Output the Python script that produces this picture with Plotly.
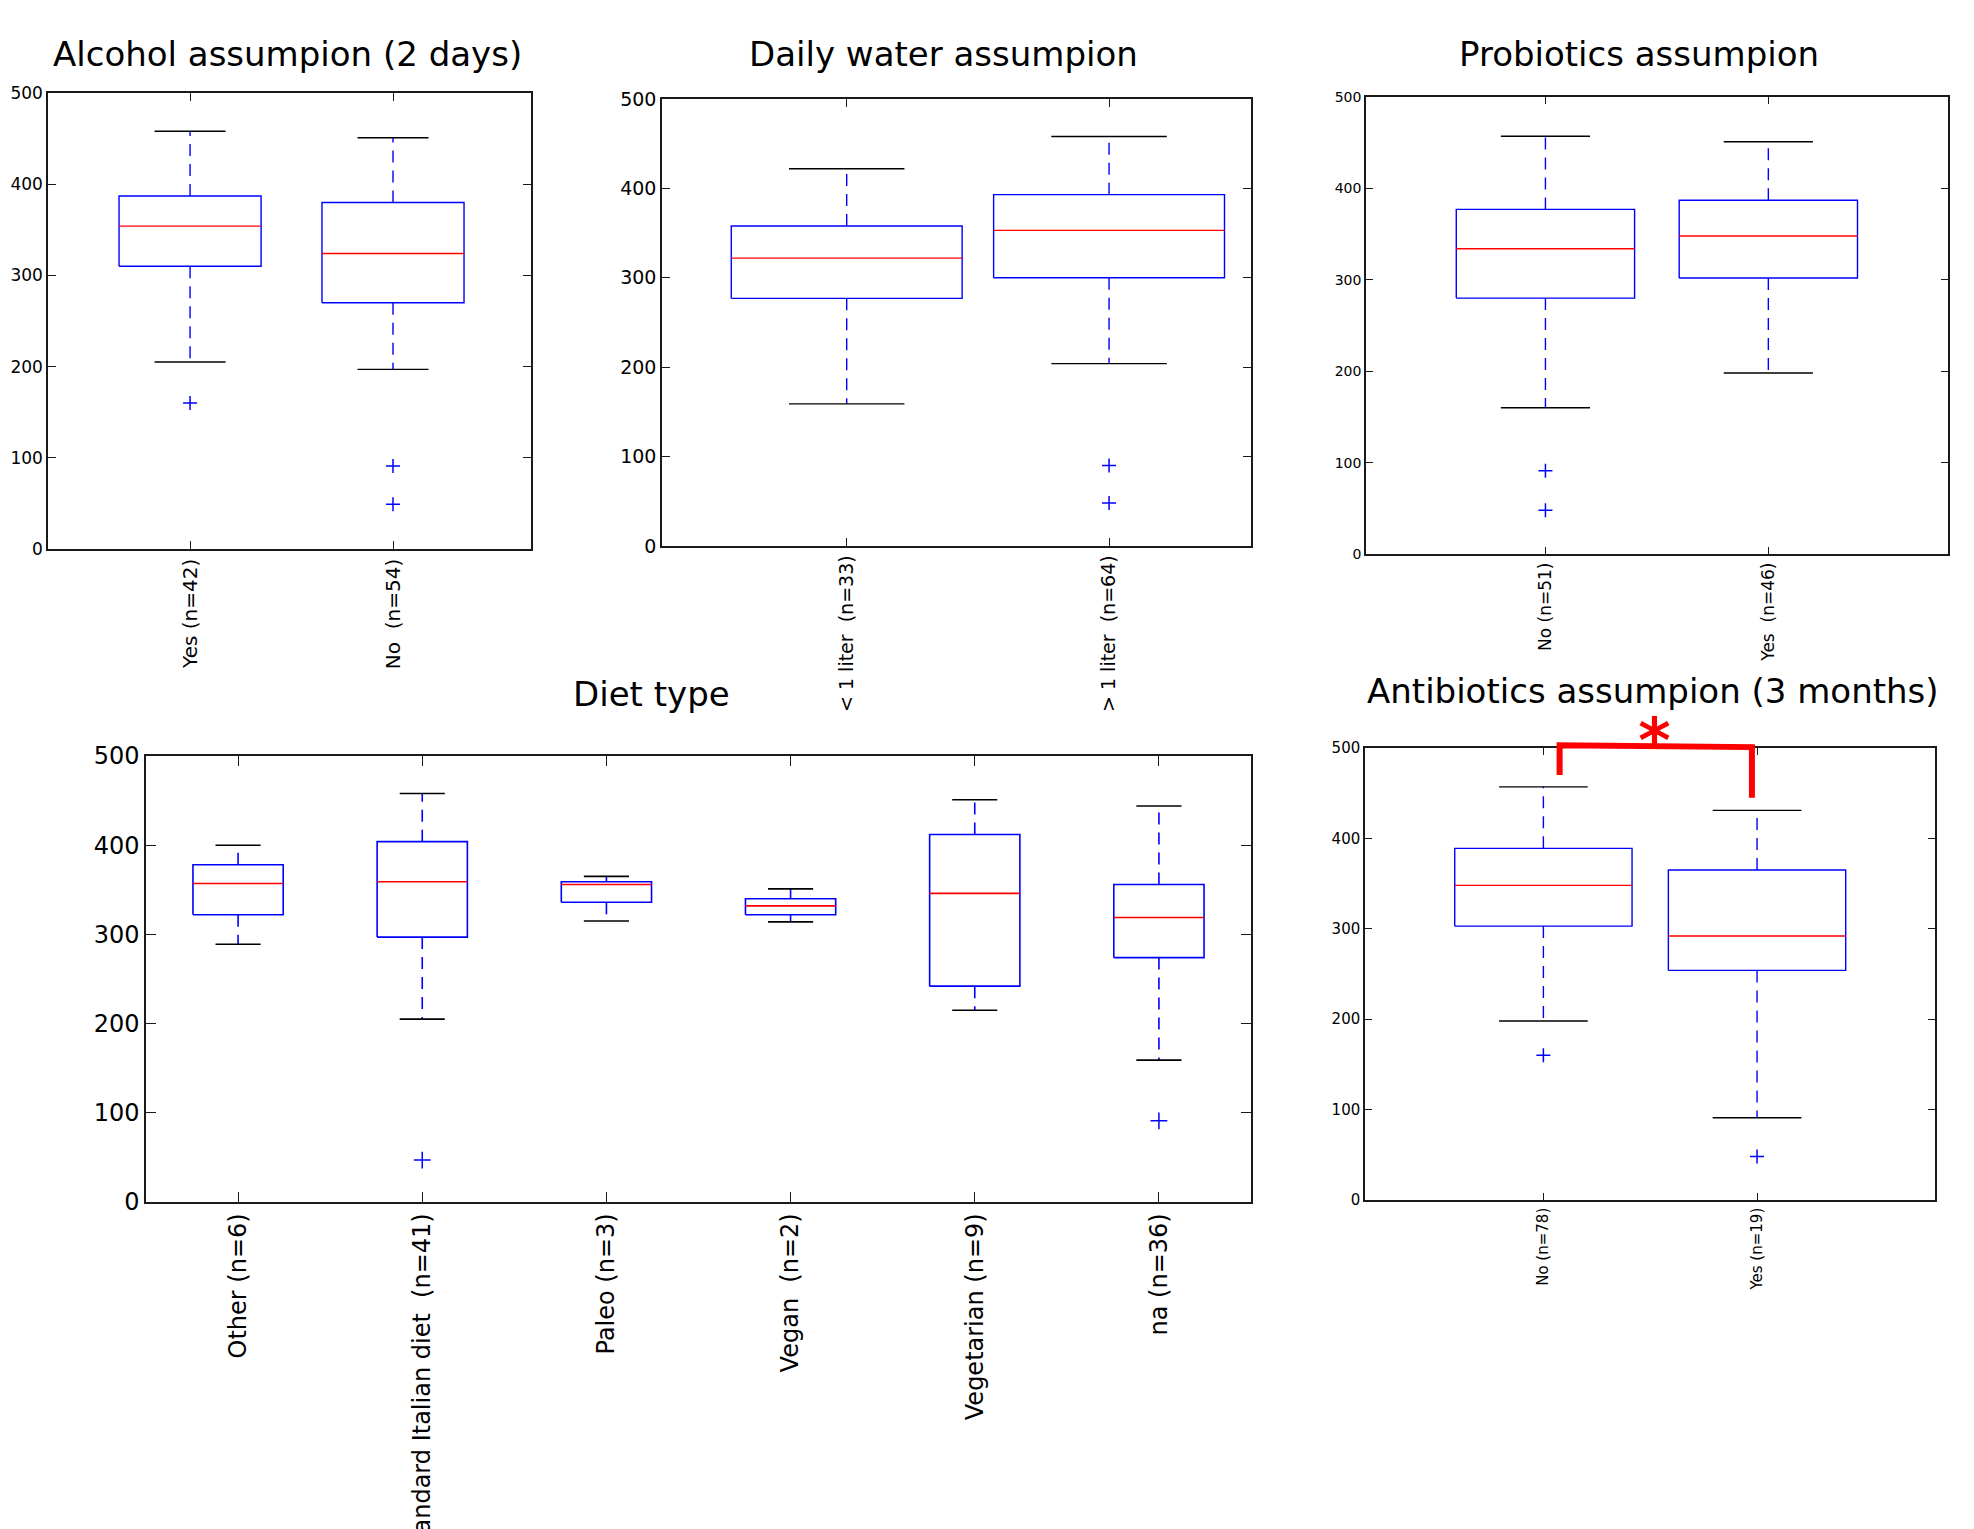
import plotly.graph_objects as go

W, H = 1974, 1529

# ---------------- data ----------------
alc_title = "Alcohol assumpion (2 days)"
alc_labels = ["Yes (n=42)", "No  (n=54)"]
alc_lower = [205, 197]
alc_q1 = [310, 270]
alc_med = [354, 324]
alc_q3 = [387, 380]
alc_upper = [458, 451]
alc_out = [[160], [91, 49]]

wat_title = "Daily water assumpion"
wat_labels = ["< 1 liter  (n=33)", "> 1 liter  (n=64)"]
wat_lower = [159, 204]
wat_q1 = [277, 300]
wat_med = [322, 353]
wat_q3 = [358, 393]
wat_upper = [422, 458]
wat_out = [[], [90, 48]]

pro_title = "Probiotics assumpion"
pro_labels = ["No (n=51)", "Yes  (n=46)"]
pro_lower = [160, 198]
pro_q1 = [280, 302]
pro_med = [334, 348]
pro_q3 = [377, 387]
pro_upper = [457, 451]
pro_out = [[91, 48], []]

diet_title = "Diet type"
diet_labels = ["Other (n=6)", "Standard Italian diet  (n=41)", "Paleo (n=3)",
               "Vegan  (n=2)", "Vegetarian (n=9)", "na (n=36)"]
diet_lower = [289, 205, 315, 314, 215, 159]
diet_q1 = [322, 297, 336, 322, 242, 274]
diet_med = [357, 359, 356, 332, 346, 319]
diet_q3 = [378, 404, 359, 340, 412, 356]
diet_upper = [400, 458, 365, 351, 451, 444]
diet_out = [[], [47], [], [], [], [91]]

abx_title = "Antibiotics assumpion (3 months)"
abx_labels = ["No (n=78)", "Yes (n=19)"]
abx_lower = [198, 91]
abx_q1 = [303, 254]
abx_med = [348, 292]
abx_q3 = [389, 365]
abx_upper = [457, 431]
abx_out = [[160], [48]]

# significance bracket (No vs Yes antibiotics)
sig_x = [1.076, 1.076, 1.976, 1.976]
sig_y = [470, 503, 501, 445]
sig_star_x = [1.52]
sig_star_y = [502]
sig_text = ["*"]

y_ticks = [0, 100, 200, 300, 400, 500]

# ---------------- styling / layout ----------------
FONT = "DejaVu Sans"
BLUE = "#0000ff"
RED = "#ff0000"

# pixel boxes of each panel: (left, top, right, bottom)
panels = [
    dict(title=alc_title, labels=alc_labels, lo=alc_lower, q1=alc_q1, med=alc_med, q3=alc_q3,
         hi=alc_upper, out=alc_out, box=(48, 93, 531, 549), xr=(0.30, 2.68), bw=0.35,
         fs=17, xfs=20, tl=8, tpos=(287, 54)),
    dict(title=wat_title, labels=wat_labels, lo=wat_lower, q1=wat_q1, med=wat_med, q3=wat_q3,
         hi=wat_upper, out=wat_out, box=(662, 99, 1251, 546), xr=(0.296, 2.541), bw=0.44,
         fs=19, xfs=19, tl=8, tpos=(943, 54)),
    dict(title=pro_title, labels=pro_labels, lo=pro_lower, q1=pro_q1, med=pro_med, q3=pro_q3,
         hi=pro_upper, out=pro_out, box=(1366, 97, 1948, 554), xr=(0.195, 2.806), bw=0.40,
         fs=14, xfs=17, tl=7, tpos=(1639, 54)),
    dict(title=diet_title, labels=diet_labels, lo=diet_lower, q1=diet_q1, med=diet_med, q3=diet_q3,
         hi=diet_upper, out=diet_out, box=(146, 756, 1251, 1202), xr=(0.5, 6.5), bw=0.245,
         fs=24, xfs=24, tl=10, tpos=(651, 694)),
    dict(title=abx_title, labels=abx_labels, lo=abx_lower, q1=abx_q1, med=abx_med, q3=abx_q3,
         hi=abx_upper, out=abx_out, box=(1365, 748, 1935, 1200), xr=(0.165, 2.833), bw=0.415,
         fs=15, xfs=15, tl=7, tpos=(1653, 691)),
]

fig = go.Figure()
layout = dict(width=W, height=H, autosize=False,
              margin=dict(l=0, r=0, t=0, b=0, pad=0, autoexpand=False),
              paper_bgcolor="white", plot_bgcolor="rgba(0,0,0,0)", showlegend=False,
              font=dict(family=FONT, color="black"))
annotations = []

for k, p in enumerate(panels, start=1):
    xa = "x" if k == 1 else f"x{k}"
    ya = "y" if k == 1 else f"y{k}"
    xkey = "xaxis" if k == 1 else f"xaxis{k}"
    ykey = "yaxis" if k == 1 else f"yaxis{k}"
    l, t, r, b = p["box"]
    pos = list(range(1, len(p["labels"]) + 1))
    bw = p["bw"]
    cw = bw / 2.0

    bx, by, mx, my, wx, wy, cx, cy, ox, oy = [], [], [], [], [], [], [], [], [], []
    for i, x in enumerate(pos):
        bx += [x - bw, x + bw, x + bw, x - bw, x - bw, None]
        by += [p["q1"][i], p["q1"][i], p["q3"][i], p["q3"][i], p["q1"][i], None]
        mx += [x - bw, x + bw, None]
        my += [p["med"][i], p["med"][i], None]
        wx += [x, x, None, x, x, None]
        wy += [p["q3"][i], p["hi"][i], None, p["q1"][i], p["lo"][i], None]
        cx += [x - cw, x + cw, None, x - cw, x + cw, None]
        cy += [p["hi"][i], p["hi"][i], None, p["lo"][i], p["lo"][i], None]
        for v in p["out"][i]:
            ox.append(x)
            oy.append(v)

    lw = 1.6 if k == 4 else 1.4
    fig.add_trace(go.Scatter(x=wx, y=wy, mode="lines", xaxis=xa, yaxis=ya,
                             line=dict(color=BLUE, width=lw, dash="12px,8px"), hoverinfo="skip"))
    fig.add_trace(go.Scatter(x=cx, y=cy, mode="lines", xaxis=xa, yaxis=ya,
                             line=dict(color="black", width=lw), hoverinfo="skip"))
    fig.add_trace(go.Scatter(x=bx, y=by, mode="lines", xaxis=xa, yaxis=ya,
                             line=dict(color=BLUE, width=lw), hoverinfo="skip"))
    fig.add_trace(go.Scatter(x=mx, y=my, mode="lines", xaxis=xa, yaxis=ya,
                             line=dict(color=RED, width=lw), hoverinfo="skip"))
    fig.add_trace(go.Scatter(x=ox, y=oy, mode="markers", xaxis=xa, yaxis=ya,
                             marker=dict(symbol="cross-thin-open", size=12 if k == 4 else 10,
                                         color=BLUE, line=dict(color=BLUE, width=1.5)),
                             hoverinfo="skip"))

    axis_common = dict(showline=True, linecolor="#1a1a1a", linewidth=1.5, mirror="ticks",
                       ticks="inside", ticklen=p["tl"], tickwidth=1.3, tickcolor="#1a1a1a",
                       showgrid=False, zeroline=False, automargin=False, fixedrange=True)
    layout[xkey] = dict(axis_common, domain=[l / W, r / W], anchor=ya, range=list(p["xr"]),
                        tickmode="array", tickvals=pos, ticktext=p["labels"], tickangle=-90,
                        tickfont=dict(family=FONT, size=p["xfs"], color="black"))
    layout[ykey] = dict(axis_common, domain=[1 - b / H, 1 - t / H], anchor=xa, range=[0, 500],
                        tickmode="array", tickvals=y_ticks,
                        tickfont=dict(family=FONT, size=p["fs"], color="black"))
    annotations.append(dict(text=p["title"], xref="paper", yref="paper",
                            x=p["tpos"][0] / W, y=1 - p["tpos"][1] / H,
                            xanchor="center", yanchor="middle", showarrow=False,
                            font=dict(family=FONT, size=34, color="black")))

# extra invisible axes with panel-5's scale, extended upward so the bracket is not clipped
l5, t5, r5, b5 = panels[4]["box"]
ext = 70
h5 = b5 - t5
layout["xaxis6"] = dict(domain=[l5 / W, r5 / W], anchor="y6", range=list(panels[4]["xr"]),
                        visible=False, showgrid=False, zeroline=False, automargin=False,
                        fixedrange=True)
layout["yaxis6"] = dict(domain=[1 - b5 / H, 1 - (t5 - ext) / H], anchor="x6",
                        range=[0, 500 * (h5 + ext) / h5], visible=False, showgrid=False,
                        zeroline=False, automargin=False, fixedrange=True)
fig.add_trace(go.Scatter(x=sig_x, y=sig_y, mode="lines", xaxis="x6", yaxis="y6",
                         line=dict(color=RED, width=6), hoverinfo="skip"))
fig.add_trace(go.Scatter(x=sig_star_x, y=sig_star_y, mode="text", text=sig_text,
                         textposition="middle center", xaxis="x6", yaxis="y6", cliponaxis=False,
                         textfont=dict(family=FONT, size=62, color=RED, weight="bold"),
                         hoverinfo="skip"))

layout["annotations"] = annotations
fig.update_layout(**layout)
fig.write_html("out.html", config={"displayModeBar": False},
               post_script="document.body.style.margin='0';")
